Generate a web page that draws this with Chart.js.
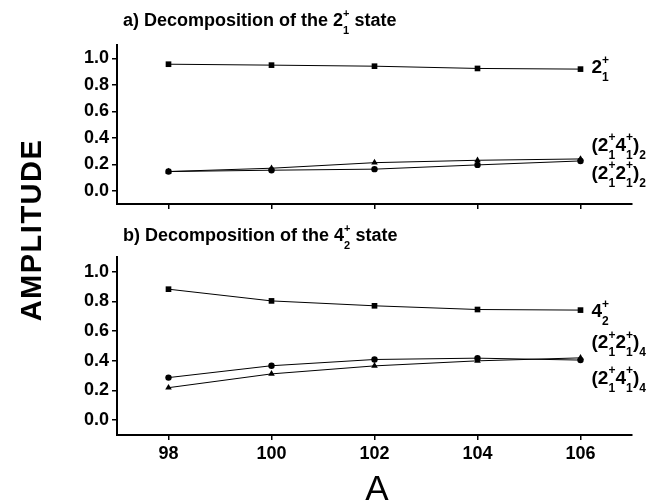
<!DOCTYPE html>
<html><head><meta charset="utf-8">
<script src="https://cdn.jsdelivr.net/npm/chart.js@4.4.0/dist/chart.umd.min.js"></script>
<style>
html,body{margin:0;padding:0;background:#fff;}
#wrap{position:relative;width:660px;height:504px;background:#fff;}
canvas{position:absolute;left:0;top:0;}
</style></head><body>
<div id="wrap"><canvas id="c1" width="660" height="504"></canvas><canvas id="c2" width="660" height="504"></canvas></div>
<script>
// ---- data ----
const massNumbers = [98, 100, 102, 104, 106];
const xTicks = [98, 100, 102, 104, 106];
const yTicks = [0, 0.2, 0.4, 0.6, 0.8, 1.0];
// panel a) decomposition of the 2_1^+ state
const a_2p1 = [0.955, 0.948, 0.940, 0.923, 0.918];
const a_2p1_4p1 = [0.145, 0.170, 0.212, 0.230, 0.240];
const a_2p1_2p1 = [0.145, 0.155, 0.163, 0.195, 0.225];
// panel b) decomposition of the 4_2^+ state
const b_4p2 = [0.883, 0.804, 0.771, 0.746, 0.742];
const b_2p1_2p1 = [0.287, 0.367, 0.409, 0.418, 0.405];
const b_2p1_4p1 = [0.219, 0.312, 0.366, 0.400, 0.420];
// text
const labelsA = ['2_1^+', '(2_1^+4_1^+)_2', '(2_1^+2_1^+)_2'];
const labelsB = ['4_2^+', '(2_1^+2_1^+)_4', '(2_1^+4_1^+)_4'];
const titleA = 'a) Decomposition of the 2_1^+ state';
const titleB = 'b) Decomposition of the 4_2^+ state';
const yTitle = 'AMPLITUDE';
const xTitle = 'A';

const FAM = '"Liberation Sans", Arial, sans-serif';

function parseRich(s){
  const out=[]; let i=0;
  while(i<s.length){
    const c=s[i];
    if(c==='_'||c==='^'){
      let last=out[out.length-1];
      if(!last||last.type!=='script'){ last={type:'script',sub:'',sup:''}; out.push(last); }
      if(c==='_') last.sub+=s[i+1]; else last.sup+=s[i+1];
      i+=2;
    } else {
      let last=out[out.length-1];
      if(last&&last.type==='text') last.t+=c; else out.push({type:'text',t:c});
      i++;
    }
  }
  return out;
}
function drawRich(ctx, s, x, y, size, weight){
  const segs=parseRich(s);
  const small=Math.round(size*0.63);
  const w8 = weight ? weight+' ' : '';
  ctx.textBaseline='alphabetic'; ctx.textAlign='left'; ctx.fillStyle='#000';
  for(const seg of segs){
    if(seg.type==='text'){
      ctx.font=w8+size+'px '+FAM; ctx.fillText(seg.t,x,y); x+=ctx.measureText(seg.t).width;
    } else {
      ctx.font=w8+small+'px '+FAM; let w=0;
      if(seg.sup){ ctx.fillText(seg.sup,x,y-size*0.5); w=Math.max(w,ctx.measureText(seg.sup).width); }
      if(seg.sub){ ctx.fillText(seg.sub,x,y+size*0.42); w=Math.max(w,ctx.measureText(seg.sub).width); }
      x+=w;
    }
  }
}

const radii = {rect:4, triangle:3.8, circle:3.2};

function makeChart(id, seriesList, styleList, labels, labelDy, title, titleY, padTop, xAxisH, showX, extra){
  const datasets = seriesList.map((vals,i)=>({
    data: massNumbers.map((m,j)=>({x:m, y:vals[j]})),
    borderColor:'#000', backgroundColor:'#000', borderWidth:1,
    pointStyle: styleList[i], pointRadius: radii[styleList[i]],
    pointBackgroundColor:'#000', pointBorderColor:'#000', pointBorderWidth:0,
    tension:0, fill:false
  }));
  const labelPlugin = {
    id:'labels'+id,
    afterDraw(chart){
      const ctx=chart.ctx; ctx.save();
      chart.data.datasets.forEach((ds,i)=>{
        const meta=chart.getDatasetMeta(i);
        const p=meta.data[meta.data.length-1];
        drawRich(ctx, labels[i], p.x+11, p.y+labelDy[i], 19, 'bold');
      });
      drawRich(ctx, title, 123, titleY, 18, 'bold');
      if(extra) extra(ctx, chart);
      ctx.restore();
    }
  };
  const axisCommon = {
    grid:{display:true, drawOnChartArea:false, drawTicks:true, tickLength:5, color:'#000', lineWidth:1.5},
    border:{display:true, color:'#000', width:2}
  };
  return new Chart(document.getElementById(id), {
    type:'line',
    data:{datasets},
    options:{
      responsive:false, animation:false, devicePixelRatio:1,
      layout:{padding:{left:0, right:28, top:padTop, bottom:0}},
      plugins:{legend:{display:false}, tooltip:{enabled:false}},
      scales:{
        x:Object.assign({type:'linear', min:97, max:107,
          afterBuildTicks:s=>{ s.ticks = xTicks.map(v=>({value:v})); },
          afterFit:s=>{ s.height = xAxisH; },
          ticks:{display:showX, color:'#000', font:{family:FAM, size:18, weight:'bold'}, padding:3, maxRotation:0, callback:v=>String(v)}
        }, axisCommon),
        y:Object.assign({type:'linear', min:-0.1, max:1.1,
          afterBuildTicks:s=>{ s.ticks = yTicks.map(v=>({value:v})); },
          afterFit:s=>{ s.width = 117; },
          ticks:{color:'#000', font:{family:FAM, size:18, weight:'bold'}, padding:3, callback:v=>Number(v).toFixed(1)}
        }, axisCommon)
      }
    },
    plugins:[labelPlugin]
  });
}

makeChart('c1', [a_2p1, a_2p1_4p1, a_2p1_2p1], ['rect','triangle','circle'], labelsA, [4,-8,18], titleA, 26, 45, 300, false);
makeChart('c2', [b_4p2, b_2p1_2p1, b_2p1_4p1], ['rect','circle','triangle'], labelsB, [7,-12,26], titleB, 241, 257, 69, true,
  (ctx)=>{
    ctx.fillStyle='#000';
    ctx.save();
    ctx.translate(31,230); ctx.rotate(-Math.PI/2);
    ctx.font='bold 29px '+FAM; ctx.textAlign='center'; ctx.textBaseline='alphabetic';
    try{ ctx.letterSpacing='1.5px'; }catch(e){}
    ctx.fillText(yTitle,0,10.4);
    ctx.restore();
    ctx.font='35px '+FAM; ctx.textAlign='center'; ctx.textBaseline='alphabetic';
    ctx.fillText(xTitle,377,500);
  });
</script>
</body></html>
